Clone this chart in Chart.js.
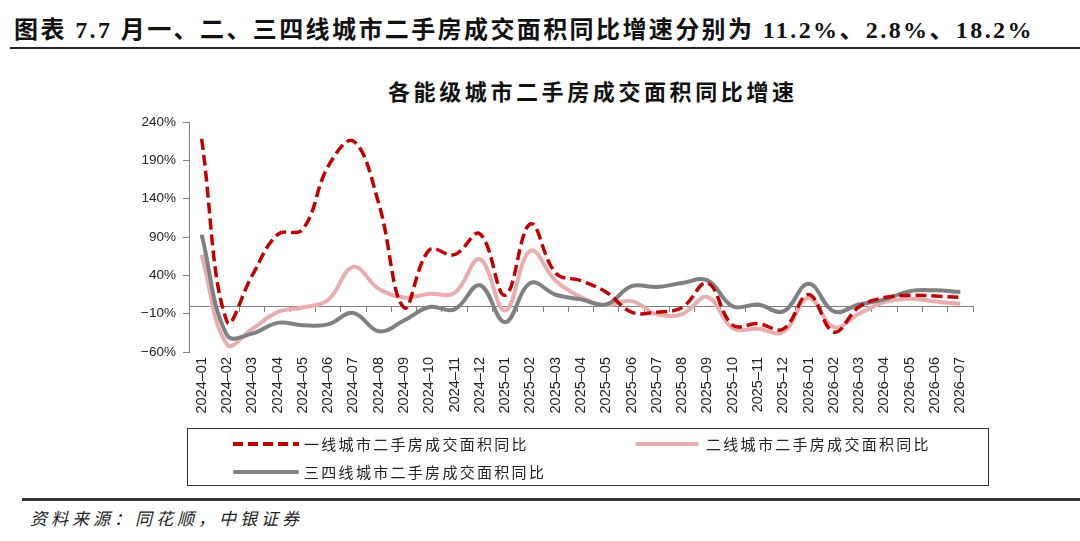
<!DOCTYPE html>
<html>
<head>
<meta charset="utf-8">
<script src="https://cdn.jsdelivr.net/npm/chart.js@4.4.1/dist/chart.umd.min.js"></script>
<style>
  html, body { margin: 0; padding: 0; background: #fff; }
  body { width: 1080px; height: 541px; position: relative; overflow: hidden; font-family: "Noto Sans CJK SC", sans-serif; color: #111; }
  .abs { position: absolute; white-space: nowrap; }
  #title { left: 14px; top: 14px; font-family: "Liberation Serif", "Noto Sans CJK SC", serif; font-weight: bold; font-size: 24px; letter-spacing: 2.4px; line-height: 32px; }
  #rule1 { left: 10px; width: 1070px; top: 47px; height: 2px; background: #222; }
  #chartTitle { left: 388px; top: 76px; font-weight: bold; font-size: 22px; letter-spacing: 3.6px; line-height: 28px; }
  #wrap { left: 0; top: 100px; width: 1080px; height: 330px; }
  #legend { left: 187px; top: 428px; width: 800px; height: 56px; border: 1.5px solid #333; }
  .lg { font-size: 15px; letter-spacing: 2.3px; line-height: 20px; color: #222; }
  #rule2 { left: 22px; width: 1058px; top: 498px; height: 2.5px; background: #333; }
  #source { left: 30px; top: 506px; font-size: 17px; font-style: italic; letter-spacing: 4px; line-height: 24px; color: #222; }
</style>
</head>
<body>
<div id="title" class="abs">图表 7.7 月一、二、三四线城市二手房成交面积同比增速分别为 11.2%、2.8%、18.2%</div>
<div id="rule1" class="abs"></div>
<div id="chartTitle" class="abs">各能级城市二手房成交面积同比增速</div>
<div id="wrap" class="abs"><canvas id="chart" width="1080" height="330"></canvas></div>

<div id="legend" class="abs"></div>
<svg class="abs" style="left:233px;top:440px" width="66" height="8"><line x1="0" y1="4" x2="66" y2="4" stroke="#C00000" stroke-width="4" stroke-dasharray="10 5"/></svg>
<div id="lg1" class="abs lg" style="left:304px;top:434px"></div>
<svg class="abs" style="left:635px;top:439.5px" width="64" height="8"><line x1="2" y1="4" x2="62" y2="4" stroke="#E8AEAE" stroke-width="4" stroke-linecap="round"/></svg>
<div id="lg2" class="abs lg" style="left:706px;top:434px"></div>
<svg class="abs" style="left:233px;top:468px" width="66" height="8"><line x1="2" y1="4" x2="64" y2="4" stroke="#808080" stroke-width="4" stroke-linecap="round"/></svg>
<div id="lg3" class="abs lg" style="left:304px;top:462px"></div>

<div id="rule2" class="abs"></div>
<div id="source" class="abs">资料来源：同花顺，中银证券</div>

<script>
// months on the category axis
const labels = [
  '2024-01', '2024-02', '2024-03', '2024-04', '2024-05', '2024-06', '2024-07', '2024-08',
  '2024-09', '2024-10', '2024-11', '2024-12', '2025-01', '2025-02', '2025-03', '2025-04',
  '2025-05', '2025-06', '2025-07', '2025-08', '2025-09', '2025-10', '2025-11', '2025-12',
  '2026-01', '2026-02', '2026-03', '2026-04', '2026-05', '2026-06', '2026-07'
];

const seriesNames = ['一线城市二手房成交面积同比', '二线城市二手房成交面积同比', '三四线城市二手房成交面积同比'];

// year-on-year growth, %
const tier1 = [218, -20, 40, 93, 100, 182, 215, 134, -2, 73, 67, 94, 14, 107, 43, 33,
  18, -8, -8, -2, 30, -25, -23, -30, 15, -34, -1, 11, 14, 13, 11.2];
const tier2 = [67, -50, -30, -8, -2, 8, 51, 22.5, 11, 16, 17, 61, -6, 72, 33, 11.6,
  1, 6.4, -11, -10.5, 11.6, -29, -29.6, -34, 10.8, -27.5, -10, 5, 9.5, 6, 2.8];
const tier34 = [93, -38, -36, -22, -25, -24, -9, -33, -19, -1.4, -4.4, 27, -21, 30, 14.7, 8.6,
  2, 26, 24.7, 30, 33.4, -0.5, 2, -7, 29, -7, 2, 8.6, 19.4, 20.4, 18.2];

const yTicks = [-60, -10, 40, 90, 140, 190, 240];

document.getElementById('lg1').textContent = seriesNames[0];
document.getElementById('lg2').textContent = seriesNames[1];
document.getElementById('lg3').textContent = seriesNames[2];

const axisGray = '#808080';
const tickFont = { family: '"Liberation Sans", Arial, sans-serif', size: 13.5 };

const ctx = document.getElementById('chart').getContext('2d');
new Chart(ctx, {
  type: 'line',
  data: {
    labels: labels,
    datasets: [{
      label: seriesNames[0],
      data: tier1,
      borderColor: '#C00000',
      borderWidth: 3.5,
      borderDash: [11, 5],
      tension: 0.4,
      pointRadius: 0,
      fill: false
    }, {
      label: seriesNames[2],
      data: tier34,
      borderColor: '#808080',
      borderWidth: 4,
      tension: 0.4,
      pointRadius: 0,
      fill: false
    }, {
      label: seriesNames[1],
      data: tier2,
      borderColor: '#E8AEAE',
      borderWidth: 4,
      tension: 0.4,
      pointRadius: 0,
      fill: false
    }]
  },
  options: {
    responsive: false,
    animation: false,
    layout: { padding: { top: 22, right: 107, bottom: 0, left: 0 } },
    plugins: {
      legend: { display: false },
      tooltip: { enabled: false }
    },
    scales: {
      x: {
        type: 'category',
        position: 'bottom',
        offset: true,
        grid: { display: false, drawTicks: false },
        border: { display: false },
        ticks: {
          autoSkip: false,
          minRotation: 90,
          maxRotation: 90,
          padding: 5,
          color: '#222',
          font: { family: tickFont.family, size: 14.5 },
          callback: function (v) { return this.getLabelForValue(v).replace('-', '–'); }
        },
        afterFit: s => { s.height = 78; }
      },
      // zero line with the small category ticks
      x0: {
        type: 'category',
        position: { y: 0 },
        offset: true,
        grid: { display: true, drawOnChartArea: false, drawTicks: true, tickLength: 5, offset: true, color: axisGray },
        border: { display: true, color: axisGray, width: 1 },
        ticks: { display: false }
      },
      y: {
        position: 'left',
        min: -60,
        max: 240,
        afterBuildTicks: s => { s.ticks = yTicks.map(v => ({ value: v })); },
        grid: { drawOnChartArea: false, drawTicks: true, tickLength: 6, color: axisGray },
        border: { display: true, color: axisGray },
        ticks: {
          padding: 7,
          color: '#222',
          font: tickFont,
          callback: v => (v < 0 ? '−' + Math.abs(v) : v) + '%'
        },
        afterFit: s => { s.width = 189; }
      }
    }
  }
});
</script>
</body>
</html>
